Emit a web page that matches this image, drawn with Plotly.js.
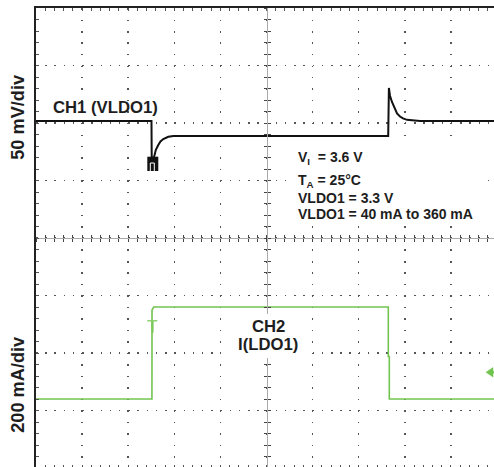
<!DOCTYPE html>
<html><head><meta charset="utf-8">
<script src="https://cdn.plot.ly/plotly-3.0.1.min.js"></script>
<style>
html,body{margin:0;padding:0;background:#fff;overflow:hidden}
#wrap{width:494px;height:467px;overflow:hidden;position:relative}
#plot{width:497px;height:469px}
</style>
</head><body><div id="wrap"><div id="plot"></div></div>
<script>
// ---------- data (time in scope divisions) ----------
// CH1: VLDO1 deviation from its nominal 3.3 V level, mV (50 mV/div)
const ch1Time = [0, 2.505, 2.51, 2.52, 2.55, 2.566, 2.60, 2.653, 2.70, 2.761, 2.82, 2.87, 2.98,
                 7.64, 7.655, 7.679, 7.722, 7.777, 7.831, 7.896, 7.961, 8.048, 8.156, 8.33, 10];
const ch1Millivolts = [0, 0, -31, -40, -33, -29.6, -25, -20.9, -17.8, -15.7, -14.4, -13.7, -13.0,
                 -13.0, 28.7, 22, 16.5, 10.9, 6.5, 3.9, 2.2, 1.0, 0.4, 0, 0];
// CH2: I(LDO1), mA (200 mA/div)
const ch2Time = [0, 2.515, 2.517, 2.555, 7.642, 7.642, 7.664, 7.664, 10];
const ch2Milliamps = [40, 40, 350, 360, 360, 188, 188, 40, 40];

const ch1Label = 'CH1 (VLDO1)';
const ch2Label = ['CH2', 'I(LDO1)'];
const conditionLines = ['V<sub>I</sub>&nbsp; = 3.6 V', 'T<sub>A</sub> = 25°C', 'VLDO1 = 3.3 V', 'VLDO1 = 40 mA to 360 mA'];
const ch1Scale = '50 mV/div';
const ch2Scale = '200 mA/div';

// ---------- geometry / style ----------
const W = 497, H = 469, ML = 36, MT = 8, MB = 1;
const PW = W - ML, PH = H - MT - MB;        // 461 x 460 -> 10 x 8 divisions
const NX = 10, NY = 8;
const MV_PER_DIV = 50, MA_PER_DIV = 200;
const CH1_ZERO_DIV = 6.035;  // division (from bottom) of the CH1 reference level
const CH2_ZERO_DIV = 1;      // division (from bottom) of 0 mA
const fx = p => (p - ML) / PW;               // pixel -> paper
const fy = p => (MT + PH - p) / PH;
const FONT = 'Liberation Sans, Arial, Helvetica, sans-serif';
const TXT = '#1e1e1e';
const GREEN = '#72c350';

const gridAx = {showticklabels:false, zeroline:false, fixedrange:true};

const layout = {
  width: W, height: H, margin: {l: ML, r: 0, t: MT, b: MB, pad: 0},
  paper_bgcolor: '#fff', plot_bgcolor: '#fff', showlegend: false, hovermode: false,
  font: {family: FONT, color: TXT},
  xaxis: Object.assign({}, gridAx, {range: [0, NX], side: 'top', tick0: 0, dtick: 1,
    ticks: 'inside', ticklen: 3, tickcolor: '#555', tickwidth: 1,
    minor: {dtick: 0.2, tick0: 0, ticks: 'inside', ticklen: 3, tickcolor: '#555', tickwidth: 1, showgrid: false},
    showgrid: true, gridcolor: '#555', gridwidth: 1.5, griddash: '1.5px,10px',
    showline: true, linecolor: '#222', linewidth: 2, mirror: 'ticks'}),
  yaxis: Object.assign({}, gridAx, {range: [0, NY], tick0: 0, dtick: 1,
    ticks: 'inside', ticklen: 3, tickcolor: '#555', tickwidth: 1,
    minor: {dtick: 0.2, tick0: 0, ticks: 'inside', ticklen: 3, tickcolor: '#555', tickwidth: 1, showgrid: false},
    showgrid: true, gridcolor: '#555', gridwidth: 1.5, griddash: '1.5px,7.72px',
    showline: true, linecolor: '#222', linewidth: 2, mirror: 'ticks'}),
  // data axes (hidden), aligned with the division grid
  yaxis2: {overlaying: 'y', visible: false, fixedrange: true,
    range: [-CH1_ZERO_DIV * MV_PER_DIV, (NY - CH1_ZERO_DIV) * MV_PER_DIV]},
  yaxis3: {overlaying: 'y', visible: false, fixedrange: true,
    range: [-CH2_ZERO_DIV * MA_PER_DIV, (NY - CH2_ZERO_DIV) * MA_PER_DIV]},
  // centre cross-hair with fine ticks on both sides
  xaxis2: Object.assign({}, gridAx, {overlaying: 'x', anchor: 'free', position: 0.5, side: 'bottom',
    range: [0, NX], tick0: 0, dtick: 0.2, ticks: 'outside', ticklen: 3, tickcolor: '#444', tickwidth: 1,
    showgrid: false, showline: true, linecolor: '#aaa', linewidth: 1}),
  xaxis3: Object.assign({}, gridAx, {overlaying: 'x', anchor: 'free', position: 0.5, side: 'bottom',
    range: [0, NX], tick0: 0, dtick: 0.2, ticks: 'inside', ticklen: 3, tickcolor: '#444', tickwidth: 1,
    showgrid: false, showline: false}),
  yaxis4: Object.assign({}, gridAx, {overlaying: 'y', anchor: 'free', position: 0.5, side: 'left',
    range: [0, NY], tick0: 0, dtick: 0.2, ticks: 'outside', ticklen: 3, tickcolor: '#444', tickwidth: 1,
    showgrid: false, showline: true, linecolor: '#aaa', linewidth: 1}),
  yaxis5: Object.assign({}, gridAx, {overlaying: 'y', anchor: 'free', position: 0.5, side: 'left',
    range: [0, NY], tick0: 0, dtick: 0.2, ticks: 'inside', ticklen: 3, tickcolor: '#444', tickwidth: 1,
    showgrid: false, showline: false}),
  shapes: [
    // white panels behind the texts
    {type: 'rect', xref: 'paper', yref: 'paper', layer: 'above', x0: fx(294), x1: fx(485), y0: fy(225), y1: fy(141),
     fillcolor: '#fff', line: {width: 0}},
    {type: 'rect', xref: 'paper', yref: 'paper', layer: 'above', x0: fx(221), x1: fx(305), y0: fy(358), y1: fy(314),
     fillcolor: '#fff', line: {width: 0}},
    // CH1 trigger-level marker
    {type: 'rect', xref: 'paper', yref: 'paper', layer: 'above', x0: fx(147.3), x1: fx(158.3), y0: fy(171), y1: fy(156.7),
     fillcolor: '#111', line: {width: 0}},
    {type: 'path', xref: 'paper', yref: 'paper', layer: 'above',
     path: `M${fx(150.3)},${fy(171)} L${fx(150.3)},${fy(163)} L${fx(154.3)},${fy(163)} L${fx(154.3)},${fy(171)}`,
     line: {color: '#fff', width: 1}},
    // CH2 trigger marker "T"
    {type: 'rect', xref: 'paper', yref: 'paper', layer: 'above', x0: fx(147.3), x1: fx(157.3), y0: fy(321.5), y1: fy(320),
     fillcolor: '#8fd170', line: {width: 0}},
    {type: 'rect', xref: 'paper', yref: 'paper', layer: 'above', x0: fx(151.3), x1: fx(153.6), y0: fy(332.7), y1: fy(321),
     fillcolor: '#7cc85a', line: {width: 0}},
    // CH2 reference arrow at the right edge
    {type: 'path', xref: 'paper', yref: 'paper', layer: 'above',
     path: `M${fx(486)},${fy(372.3)} L${fx(493)},${fy(367.6)} L${fx(493)},${fy(377)} Z`,
     fillcolor: GREEN, line: {color: GREEN, width: 0.5}},
    {type: 'line', xref: 'paper', yref: 'paper', layer: 'above', x0: fx(490), x1: fx(497), y0: fy(372.3), y1: fy(372.3),
     line: {color: GREEN, width: 2}}
  ],
  annotations: []
};

function txt(text, xp, topPx, size, anchor) {
  return {xref: 'paper', yref: 'paper', x: fx(xp), y: fy(topPx), xanchor: anchor || 'left', yanchor: 'top',
    text: '<b>' + text + '</b>', showarrow: false, borderpad: 0, borderwidth: 0,
    font: {family: FONT, size: size, color: TXT}};
}
layout.annotations.push(txt(ch1Label, 52.5, 97.9, 16.7));
const condTops = [148.6, 171.9, 189.9, 206.0];
conditionLines.forEach((t, i) => layout.annotations.push(txt(t, 297.5, condTops[i], 14)));
layout.annotations.push(txt(ch2Label[0], 268, 317.4, 16.7, 'center'));
layout.annotations.push(txt(ch2Label[1], 267.5, 335.0, 16.7, 'center'));
[[ch1Scale, 117], [ch2Scale, 384]].forEach(([t, yc]) => layout.annotations.push({
  xref: 'paper', yref: 'paper', x: fx(17.8), y: fy(yc), xanchor: 'center', yanchor: 'middle',
  text: '<b>' + t + '</b>', textangle: -90, showarrow: false, borderpad: 0,
  font: {family: FONT, size: 18.2, color: TXT}}));

const dummy = (xa, ya) => ({type: 'scatter', mode: 'markers', x: [null], y: [null], xaxis: xa, yaxis: ya, hoverinfo: 'skip'});
const data = [
  dummy('x', 'y'),
  dummy('x2', 'y'), dummy('x3', 'y'), dummy('x', 'y4'), dummy('x', 'y5'),
  {type: 'scatter', mode: 'lines', name: 'CH2 I(LDO1)', x: ch2Time, y: ch2Milliamps, xaxis: 'x', yaxis: 'y3',
   line: {color: GREEN, width: 1.6}, hoverinfo: 'skip'},
  {type: 'scatter', mode: 'lines', name: 'CH1 VLDO1', x: ch1Time, y: ch1Millivolts, xaxis: 'x', yaxis: 'y2',
   line: {color: '#111', width: 2}, hoverinfo: 'skip'}
];

Plotly.newPlot('plot', data, layout, {displayModeBar: false, staticPlot: true, responsive: false});
</script>
</body></html>
